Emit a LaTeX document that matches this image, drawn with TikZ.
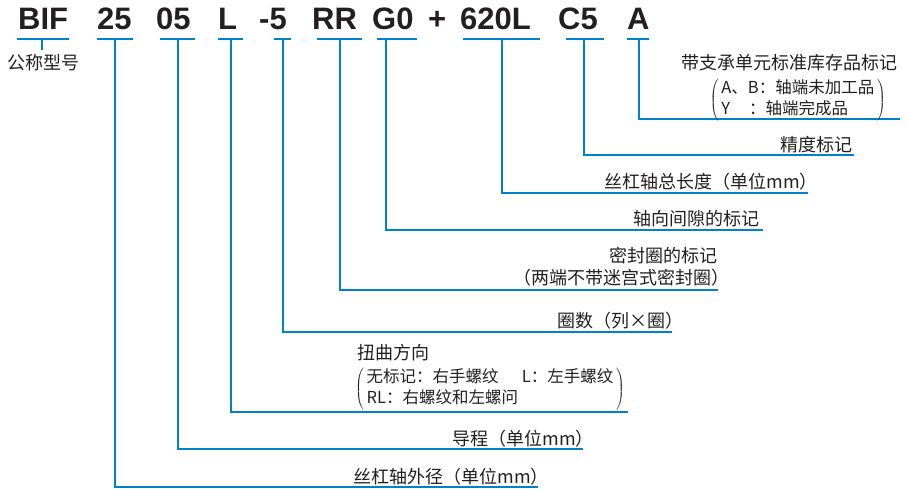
\documentclass[tikz,border=0pt]{standalone}
\usepackage{fontspec}
\setmainfont{Noto Sans CJK SC}
\newfontfamily\codefont{Liberation Sans}
\usetikzlibrary{positioning}
\definecolor{lineblue}{RGB}{0,130,202}
\definecolor{ink}{RGB}{35,31,32}
\newcommand\lblsize{\fontsize{18pt}{21pt}\selectfont}
\newcommand\keysize{\fontsize{16.5pt}{20.5pt}\selectfont}

\begin{document}
\begin{tikzpicture}[x=1pt, y=-1pt, inner sep=0pt, text=ink,
  tok/.style={font=\codefont\bfseries\fontsize{31pt}{31pt}\selectfont, anchor=base west},
  note/.style={font=\lblsize, anchor=base east},
  keyblock/.style={font=\keysize, anchor=south east},
  bar/.style={draw=lineblue, line width=1.8pt}]
  \useasboundingbox (0,0) rectangle (909,489);
  \node[tok] (bif) at (18,30) {BIF};
  \node[tok] (dia) at (97,30) {25};
  \node[tok] (lead) at (156,30) {05};
  \node[tok] (dir) at (218,30) {L};
  \node[tok] (turns) at (259,30) {-5};
  \node[tok] (seal) at (312,30) {RR};
  \node[tok] (gap) at (372,30) {G0};
  \node[tok] (plus) at (428,30) {+};
  \node[tok] (len) at (460,30) {620L};
  \node[tok] (acc) at (558,30) {C5};
  \node[tok] (stock) at (627,30) {A};
  \draw[bar] (17,39) -- (69,39);
  \draw[bar] (97,39) -- (133,39);
  \draw[bar] (160,39) -- (195,39);
  \draw[bar] (218,39) -- (243,39);
  \draw[bar] (274,39) -- (291,39);
  \draw[bar] (317,39) -- (362,39);
  \draw[bar] (377,39) -- (417,39);
  \draw[bar] (463,39) -- (540,39);
  \draw[bar] (566,39) -- (604,39);
  \draw[bar] (627,39) -- (649,39);
  \coordinate (bifend) at (42,50);
  \coordinate (diaend) at (538,487);
  \coordinate (leadend) at (583,449);
  \coordinate (dirend) at (628,412);
  \coordinate (turnsend) at (672,332);
  \coordinate (sealend) at (718,290);
  \coordinate (gapend) at (763,230);
  \coordinate (lenend) at (808,193);
  \coordinate (accend) at (854,155);
  \coordinate (stockend) at (900,119);
  \draw[bar] (42,39) -- (bifend);
  \draw[bar] (115,39) |- (diaend);
  \draw[bar] (178,39) |- (leadend);
  \draw[bar] (231,39) |- (dirend);
  \draw[bar] (283,39) |- (turnsend);
  \draw[bar] (340,39) |- (sealend);
  \draw[bar] (386,39) |- (gapend);
  \draw[bar] (502,39) |- (lenend);
  \draw[bar] (584,39) |- (accend);
  \draw[bar] (639,39) |- (stockend);
  \node[note, anchor=base] (biftxt) at (43,70) {公称型号};
  \node[note] (diatxt) at (549,483) {丝杠轴外径（单位mm）};
  \node[note] (leadtxt) at (594,445) {导程（单位mm）};
  \node[keyblock] (dirkey) at (625,410) {$\left(\begin{tabular}{@{\,}l@{\,}}无标记：右手螺纹\hspace{1.4em}L：左手螺纹\\RL：右螺纹和左螺问\end{tabular}\right)$};
  \node[note, anchor=base west] (dirtxt) at (357,359) {扭曲方向};
  \node[note] (turnstxt) at (684,327) {圈数（列×圈）};
  \node[note] (sealnote) at (730,284) {（两端不带迷宫式密封圈）};
  \node[note] (sealtxt) at (718,262) {密封圈的标记};
  \node[note] (gaptxt) at (760,225) {轴向间隙的标记};
  \node[note] (lentxt) at (818,189) {丝杠轴总长度（单位mm）};
  \node[note] (acctxt) at (853,152) {精度标记};
  \node[note] (stocktxt) at (898,70) {带支承单元标准库存品标记};
  \node[keyblock] (stockkey) at (886,121) {$\left(\begin{tabular}{@{\,}l@{\,}}A、B：轴端未加工品\\Y\hspace{1.15em}：轴端完成品\end{tabular}\right)$};
\end{tikzpicture}
\end{document}
